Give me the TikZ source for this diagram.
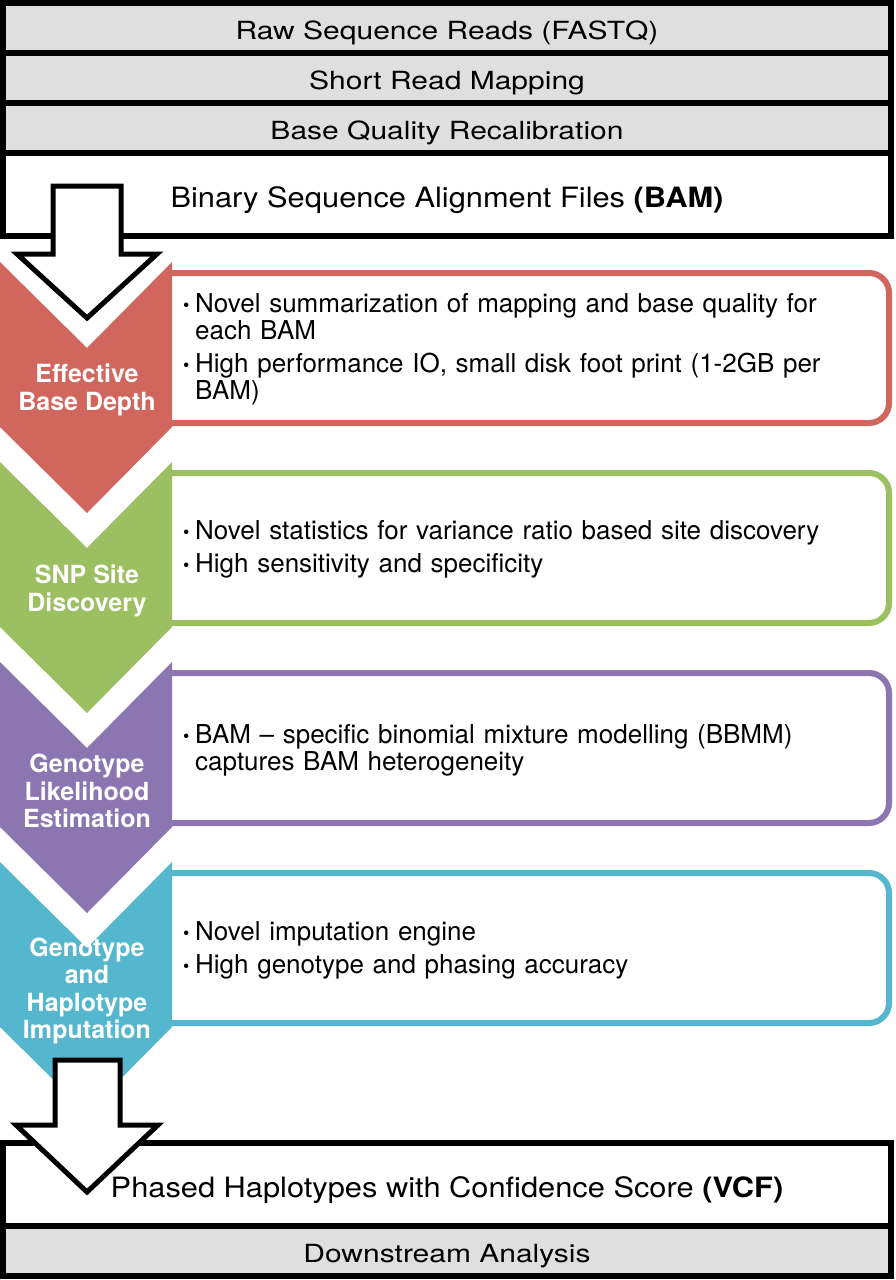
\documentclass[tikz,border=0pt]{standalone}
\usepackage{fontspec}
\setmainfont{TeX Gyre Heros}
\usetikzlibrary{positioning}

\definecolor{edbred}{HTML}{D0665E}
\definecolor{snpgreen}{HTML}{9CBF62}
\definecolor{glepurple}{HTML}{8C76B2}
\definecolor{impcyan}{HTML}{55B7CE}
\definecolor{rowgray}{HTML}{DFDFDF}

\newcommand{\bitem}[1]{\hangindent=12pt\hangafter=1\noindent\makebox[12pt][l]{\raisebox{1pt}{\fontsize{18}{18}\selectfont\textbullet}}#1\par}
\newcommand{\wide}[2]{\scalebox{#1}[1]{#2}}

\begin{document}
\begin{tikzpicture}[x=1pt,y=-1pt,
  row/.style={draw, line width=6.5pt, fill=rowgray, minimum width=888pt, minimum height=50pt,
    inner sep=0pt, outer sep=0pt, text height=23pt, text depth=0pt, font=\fontsize{25}{28}\selectfont},
  file/.style={row, fill=white, minimum height=83pt, text height=25pt, font=\fontsize{28}{32}\selectfont},
  frame/.style={draw=#1, line width=6pt},
  tag/.style={text=white, align=center, font=\bfseries\fontsize{25}{27.5}\selectfont},
  items/.style={anchor=west, text width=650pt, align=left, inner sep=0pt,
    font=\fontsize{26}{27}\selectfont,
    execute at begin node={\setlength{\parskip}{6pt}\setlength{\parindent}{0pt}}},
  hollow/.style={draw=black, fill=white, line width=5pt, line join=miter}]
\useasboundingbox (0,0) rectangle (895,1280);

% input side
\node[row] (raw) at (447,28) {\wide{1.2}{Raw Sequence Reads (FASTQ)}};
\node[row, below=0pt of raw] (map) {\wide{1.2}{Short Read Mapping}};
\node[row, below=0pt of map] (bqr) {\wide{1.2}{Base Quality Recalibration}};
\node[file, below=0pt of bqr] (bam) {\wide{1.1}{Binary Sequence Alignment Files \textbf{(BAM)}}};

% stages: frame first, chevron over its left end
\foreach \t/\c in {273/edbred, 473/snpgreen, 673/glepurple, 873/impcyan}{
  \draw[frame=\c] (165,\t) -- (869,\t) arc[start angle=-90, end angle=0, radius=20]
    -- (889,\t+130) arc[start angle=0, end angle=90, radius=20] -- (165,\t+150);
  \fill[\c] (0,\t-11) -- (87,\t+75) -- (172,\t-11) -- (172,\t+154) -- (87,\t+240) -- (0,\t+154) -- cycle;
}

\node[tag] (edb) at (87,390) {Effective\\Base Depth};
\node[tag] (snp) at (87,591) {SNP Site\\Discovery};
\node[tag] (gle) at (87,791) {Genotype\\Likelihood\\Estimation};
\node[tag] (imp) at (87,991) {Genotype\\and\\Haplotype\\Imputation};

\node[items] (edbtxt) at (183,349) {\bitem{Novel summarization of mapping and base quality for each BAM}
  \bitem{High performance IO, small disk foot print (1-2GB per BAM)}};
\node[items] (snptxt) at (183,549) {\bitem{Novel statistics for variance ratio based site discovery}
  \bitem{High sensitivity and specificity}};
\node[items] (gletxt) at (183,750) {\bitem{BAM -- specific binomial mixture modelling (BBMM) captures BAM heterogeneity}};
\node[items] (imptxt) at (183,950) {\bitem{Novel imputation engine}
  \bitem{High genotype and phasing accuracy}};

\draw[hollow] (53,186) -- (121,186) -- (121,254) -- (157,254) -- (87,318) -- (17,254) -- (53,254) -- cycle;

% output side
\node[row] (down) at (447,1251) {\wide{1.2}{Downstream Analysis}};
\node[file, above=0pt of down] (vcf) {\wide{1.1}{Phased Haplotypes with Confidence Score \textbf{(VCF)}}};

\draw[hollow] (55,1060) -- (120,1060) -- (120,1125) -- (158,1125) -- (87,1192) -- (16,1125) -- (55,1125) -- cycle;
\end{tikzpicture}
\end{document}
